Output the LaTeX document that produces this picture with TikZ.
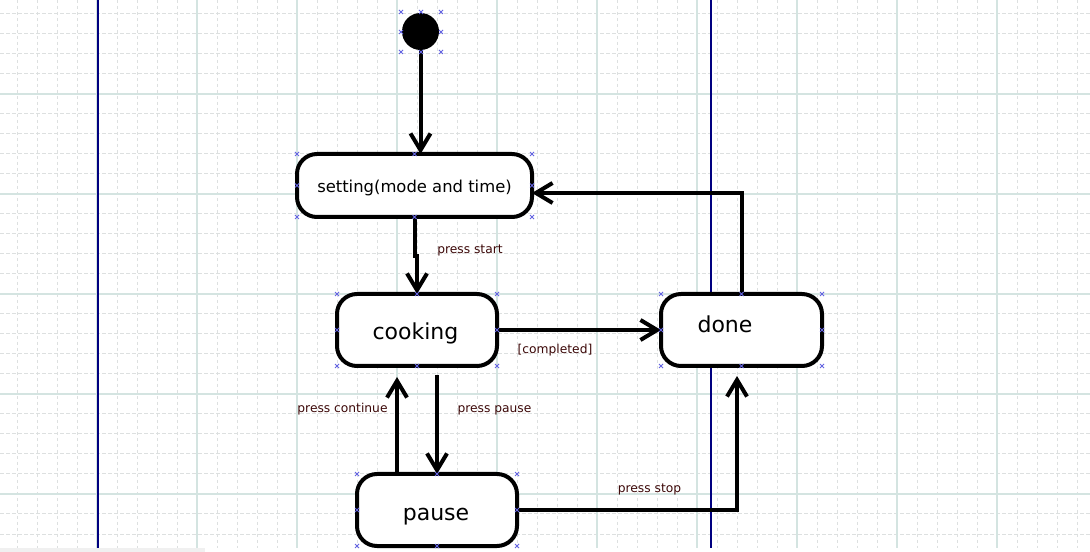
\documentclass[tikz,border=0pt]{standalone}
\usepackage{fontspec}
\setmainfont{DejaVu Sans}
\usetikzlibrary{arrows.meta,calc}
\newlength{\pxu}\setlength{\pxu}{0.75pt}
\definecolor{gridd}{RGB}{221,224,224}
\definecolor{grids}{RGB}{212,228,225}
\definecolor{lane}{RGB}{0,0,128}
\definecolor{handle}{RGB}{100,100,225}
\definecolor{lbl}{RGB}{60,8,8}
\tikzset{
  x=0.75pt, y=-0.75pt,
  statebox/.style={draw=black, line width=3pt, rounded corners=15pt, fill=white,
    inner sep=0pt, outer sep=0pt},
  conn/.style={line width=3pt, -{Straight Barb[length=12.5pt,width=15pt]}},
  bigtxt/.style={font=\fontsize{16.5}{18}\selectfont, anchor=base, inner sep=0pt},
  midtxt/.style={font=\fontsize{12.3}{14}\selectfont, anchor=base, inner sep=0pt},
  lbltxt/.style={font=\fontsize{9.2}{11}\selectfont, text=lbl, anchor=base, inner sep=0pt},
  griddash/.style={draw=gridd, line width=0.75pt, dash pattern=on 3.5\pxu off 2.5\pxu},
  gridsolid/.style={draw=grids, line width=1.2pt},
  laneline/.style={draw=lane, line width=0.8pt},
  hmark/.style={draw=handle, line width=0.6pt},
}
\begin{document}
\begin{tikzpicture}
\useasboundingbox (0,0) rectangle (1090,552);
\fill[white] (0,0) rectangle (1090,552);
% grid
\foreach \gx in {17,37,...,1077} \draw[griddash] (\gx,0) -- (\gx,548);
\foreach \gy in {14,34,...,534} \draw[griddash] (0,\gy) -- (1090,\gy);
\foreach \gx in {97,197,...,997} \draw[gridsolid] (\gx,0) -- (\gx,548);
\foreach \gy in {94,194,...,494} \draw[gridsolid] (0,\gy) -- (1090,\gy);
\fill[black!6] (0,548) rectangle (205,552);
% lanes
\draw[laneline] (98,0) -- (98,548);
\draw[laneline] (711,0) -- (711,548);
% states
\node[circle, fill=black, minimum size=37\pxu, inner sep=0pt, outer sep=0pt] (init) at (420.5,31.5) {};
\node[statebox, minimum width=235\pxu, minimum height=63\pxu] (setting) at (414.5,185.5) {};
\node[statebox, minimum width=160\pxu, minimum height=72\pxu] (cooking) at (417,330) {};
\node[statebox, minimum width=161\pxu, minimum height=72\pxu] (done) at (741.5,330) {};
\node[statebox, minimum width=160\pxu, minimum height=72\pxu] (pause) at (437,510) {};
\node[midtxt] (settingtxt) at (414.5,193) {setting(mode and time)};
\node[bigtxt] (cookingtxt) at (415.5,340) {cooking};
\node[bigtxt] (donetxt) at (725,333) {done};
\node[bigtxt] (pausetxt) at (436,520) {pause};
% helper coordinates
\coordinate (jogA) at (414.5,256);
\coordinate (jogB) at (417,256);
\coordinate (backcorner) at (741.5,193);
\coordinate (backend) at (532,193);
\coordinate (pauseTop) at (437,375);
\coordinate (contStart) at (397,474);
\coordinate (contEnd) at (397,377);
\coordinate (stopcorner) at (737,510);
\coordinate (stopend) at (737,376);
% connectors
\draw[conn] (init.south) -- (init.south |- setting.north);
\draw[conn] (setting.south) -- (jogA) -- (jogB) -- (cooking.north);
\draw[conn] (cooking.east) -- (done.west);
\draw[conn] (done.north) -- (backcorner) -- (backend);
\draw[conn] (pauseTop) -- (pause.north);
\draw[conn] (contStart) -- (contEnd);
\draw[conn] (pause.east) -- (stopcorner) -- (stopend);
% labels
\node[lbltxt] (lstart) at (470,254) {press start};
\node[lbltxt] (lcompleted) at (555,354) {[completed]};
\node[lbltxt] (lcontinue) at (342.5,413) {press continue};
\node[lbltxt] (lpause) at (494.5,413) {press pause};
\node[lbltxt] (lstop) at (649.5,493) {press stop};
% selection handles
\foreach \n in {setting,cooking,done,pause}{
  \foreach \a in {north west,north,north east,west,east,south west,south,south east}{
    \draw[hmark] ($(\n.\a)+(-2,-2)$) -- ++(4,4) ($(\n.\a)+(-2,2)$) -- ++(4,-4);
  }
}
\foreach \hx/\hy in {401/12,421/12,441/12,401/32,441/32,401/52,421/52,441/52}{
  \draw[hmark] (\hx-2,\hy-2) -- ++(4,4) (\hx-2,\hy+2) -- ++(4,-4);
}
\end{tikzpicture}
\end{document}
